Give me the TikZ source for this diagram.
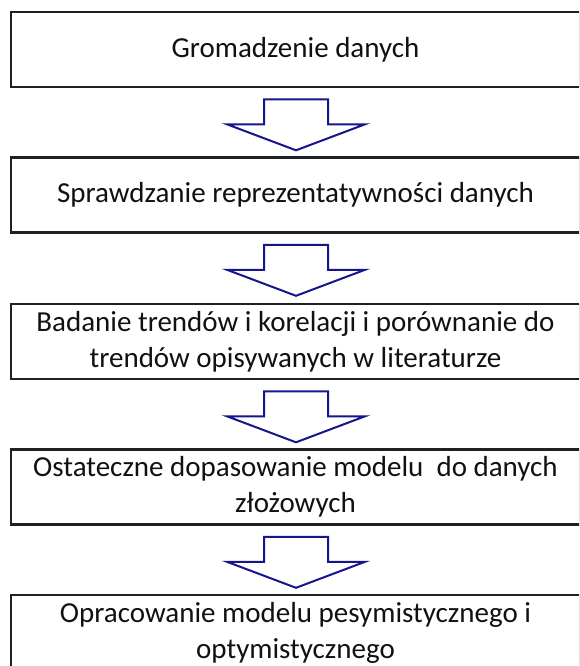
\documentclass[tikz,border=0pt]{standalone}
\usepackage{fontspec}
\setmainfont{Carlito}
\usetikzlibrary{calc}
\definecolor{boxline}{RGB}{28,34,34}
\definecolor{arrowblue}{RGB}{22,22,140}
\definecolor{txt}{RGB}{17,17,17}
\tikzset{
  stepbox/.style={draw=boxline, line width=2.6pt, rectangle, minimum width=569pt, minimum height=75pt,
    inner sep=0pt, align=center, text=txt, font=\fontsize{29}{36}\selectfont},
  blockarrow/.style={draw=arrowblue, line width=2pt, line join=miter, fill=white}
}
\newcommand{\blockarr}[1]{%
  \draw[blockarrow] ([xshift=-32pt]#1) -- ([xshift=32pt]#1) -- ([xshift=32pt,yshift=-25pt]#1)
    -- ([xshift=69pt,yshift=-25pt]#1) -- ([yshift=-51pt]#1) -- ([xshift=-69pt,yshift=-25pt]#1)
    -- ([xshift=-32pt,yshift=-25pt]#1) -- cycle;}
\begin{document}
\begin{tikzpicture}[x=1pt,y=1pt]
\clip (0,0) rectangle (579,-666);
\fill[white] (0,0) rectangle (579,-666);
\node[stepbox] (b1) at (295.5,-49.5) {Gromadzenie danych};
\node[stepbox] (b2) at (295.5,-195) {Sprawdzanie reprezentatywności danych};
\node[stepbox] (b3) at (295.5,-341.5) {Badanie trendów i korelacji i porównanie do\\trendów opisywanych w literaturze};
\node[stepbox] (b4) at (295.5,-487) {Ostateczne dopasowanie modelu\ \ do danych\\złożowych};
\node[stepbox] (b5) at (295.5,-632.5) {Opracowanie modelu pesymistycznego i\\optymistycznego};
\coordinate (a1) at ($(b1.south)+(0.5,-11)$);
\coordinate (a2) at ($(b2.south)+(0.5,-11)$);
\coordinate (a3) at ($(b3.south)+(0.5,-11)$);
\coordinate (a4) at ($(b4.south)+(0.5,-11)$);
\blockarr{a1}
\blockarr{a2}
\blockarr{a3}
\blockarr{a4}
\end{tikzpicture}
\end{document}
